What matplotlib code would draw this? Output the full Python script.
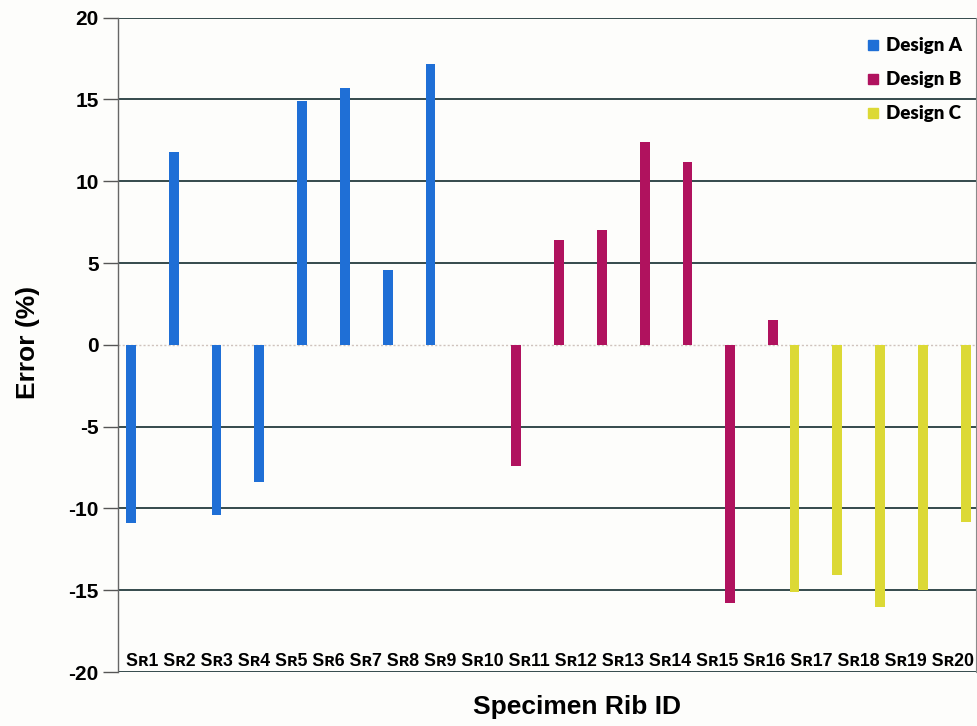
import numpy as np
import matplotlib.pyplot as plt
from matplotlib.lines import Line2D

# data
rib_ids = ['SR%d' % i for i in range(1, 21)]
designs = ['A'] * 8 + ['B'] * 7 + ['C'] * 5
errors = [-10.9, 11.8, -10.4, -8.4, 14.9, 15.7, 4.6, 17.2,
          -7.4, 6.4, 7.0, 12.4, 11.2, -15.8, 1.5,
          -15.1, -14.1, -16.0, -15.0, -10.8]
y_ticks = [-20, -15, -10, -5, 0, 5, 10, 15, 20]

colors = {'A': '#1f6fd6', 'B': '#b0125e', 'C': '#dcd935'}
shift = {'A': 0.0, 'B': 1.0, 'C': 0.5}   # slot offsets as in the original figure

bold = ['Liberation Sans', 'DejaVu Sans']

fig = plt.figure(figsize=(9.78, 7.26), dpi=100, facecolor='#fdfdfb')
ax = fig.add_axes([118 / 978, 1 - 672 / 726, (976 - 118) / 978, (672 - 17.7) / 726])
ax.set_facecolor('#fdfdfb')

xpos = np.arange(len(errors)) + np.array([shift[d] for d in designs])
ax.bar(xpos, errors, width=0.23, color=[colors[d] for d in designs], zorder=3)

for t in y_ticks:
    if t == 0:
        ax.axhline(t, color='#cfc3bd', lw=1.0, ls=(0, (1.5, 1.5)), zorder=2)
    else:
        ax.axhline(t, color='#243c3e', lw=1.3, zorder=1)

ax.set_xlim(-0.30, 19.74)
ax.set_ylim(-20, 20)
ax.set_yticks(y_ticks)
ax.set_yticklabels([str(t) for t in y_ticks], family=bold, weight='bold', fontsize=15)
ax.tick_params(axis='y', length=11, width=1, color='#555555', pad=3)
ax.set_xticks([])
for s in ['top', 'bottom']:
    ax.spines[s].set_visible(False)
ax.spines['left'].set_color('#666666')
ax.spines['left'].set_linewidth(1.0)
ax.spines['right'].set_color('#8a8a8a')
ax.spines['right'].set_linewidth(0.8)

# category labels written as one line of text inside the plot
lab_str = ' '.join(r.replace('R', '\u0280') for r in rib_ids)
lab = fig.text(550 / 978, 1 - 661 / 726, lab_str, ha='center', va='center',
               family=bold, weight='bold', fontsize=13)
fig.canvas.draw()
w = lab.get_window_extent().width
lab.set_fontsize(13 * 844 / w)

fig.text(28 / 978, 1 - 342 / 726, 'Error (%)', rotation=90, ha='center', va='center',
         family=bold, weight='bold', fontsize=19)
fig.text(577 / 978, 1 - 707 / 726, 'Specimen Rib ID', ha='center', va='center',
         family=bold, weight='bold', fontsize=19)

handles = [Line2D([], [], ls='none', marker='s', markersize=7.5, color=colors[d])
           for d in ['A', 'B', 'C']]
ax.legend(handles, ['Design A', 'Design B', 'Design C'], loc='upper left',
          bbox_to_anchor=(857 / 978, 1 - 28 / 726), bbox_transform=fig.transFigure,
          frameon=False, borderpad=0, handlelength=0.7, handletextpad=0.35,
          labelspacing=0.9, prop={'family': 'Lato', 'weight': 'heavy', 'size': 13.5})

fig.savefig('out.png', dpi=100, facecolor=fig.get_facecolor())
